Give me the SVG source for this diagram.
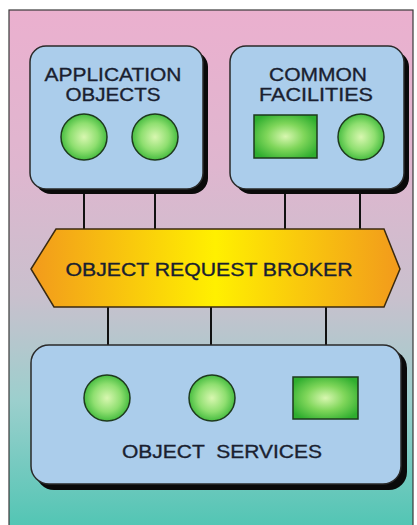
<svg xmlns="http://www.w3.org/2000/svg" width="417" height="525" viewBox="0 0 417 525">
<defs>
<linearGradient id="bg" x1="0" y1="0" x2="0" y2="1">
<stop offset="0" stop-color="#ebb0cf"/>
<stop offset="0.3" stop-color="#dfb6cf"/>
<stop offset="0.55" stop-color="#c9c0cd"/>
<stop offset="0.75" stop-color="#9ccfcd"/>
<stop offset="1" stop-color="#50c5b3"/>
</linearGradient>
<linearGradient id="orb" x1="0" y1="0" x2="1" y2="0">
<stop offset="0" stop-color="#f29a1c"/>
<stop offset="0.5" stop-color="#fff000"/>
<stop offset="1" stop-color="#f29a1c"/>
</linearGradient>
<radialGradient id="ball" cx="0.5" cy="0.5" r="0.55">
<stop offset="0" stop-color="#d8f7b0"/>
<stop offset="0.55" stop-color="#8fdf70"/>
<stop offset="1" stop-color="#35b435"/>
</radialGradient>
<radialGradient id="sq" cx="0.5" cy="0.5" r="0.6">
<stop offset="0" stop-color="#d8f7b0"/>
<stop offset="0.5" stop-color="#7fd65a"/>
<stop offset="1" stop-color="#2fae2f"/>
</radialGradient>
<style>
.box{fill:#abcdeb;stroke:#2a2a2a;stroke-width:1.5}
.sh{fill:#0a0a0a}
.lbl{font-family:"Liberation Sans",Arial,sans-serif;fill:#1a1f30;stroke:#1a1f30;stroke-width:0.35;text-anchor:middle}
.obj{fill:url(#ball);stroke:#1e3a1e;stroke-width:1.5}
.rct{fill:url(#sq);stroke:#1e3a1e;stroke-width:1.5}
.wire{stroke:#111;stroke-width:2;fill:none}
</style>
</defs>
<rect x="0" y="0" width="417" height="525" fill="#ffffff"/>
<rect x="9" y="10" width="404" height="520" fill="url(#bg)" stroke="#3a3a3a" stroke-width="1.2"/>

<g id="connectors">
<line class="wire" x1="84" y1="160" x2="84" y2="230"/>
<line class="wire" x1="155" y1="160" x2="155" y2="230"/>
<line class="wire" x1="285" y1="158" x2="285" y2="230"/>
<line class="wire" x1="360" y1="160" x2="360" y2="230"/>
<line class="wire" x1="108" y1="307" x2="108" y2="375"/>
<line class="wire" x1="211" y1="307" x2="211" y2="375"/>
<line class="wire" x1="326" y1="307" x2="326" y2="377"/>
</g>

<g id="application-objects">
<rect class="sh" x="35" y="51" width="173" height="143" rx="16"/>
<rect class="box" x="30" y="46" width="173" height="143" rx="16"/>
<text class="lbl" x="113" y="81" font-size="19" textLength="137" lengthAdjust="spacingAndGlyphs">APPLICATION</text>
<text class="lbl" x="113" y="101" font-size="19" textLength="95" lengthAdjust="spacingAndGlyphs">OBJECTS</text>
<circle class="obj" cx="84" cy="137" r="23"/>
<circle class="obj" cx="155" cy="137" r="23"/>
</g>

<g id="common-facilities">
<rect class="sh" x="235" y="51" width="174" height="143" rx="16"/>
<rect class="box" x="230" y="46" width="174" height="143" rx="16"/>
<text class="lbl" x="318" y="81" font-size="19" textLength="98" lengthAdjust="spacingAndGlyphs">COMMON</text>
<text class="lbl" x="316" y="101" font-size="19" textLength="114" lengthAdjust="spacingAndGlyphs">FACILITIES</text>
<rect class="rct" x="254" y="115" width="63" height="43"/>
<circle class="obj" cx="361" cy="137" r="23"/>
</g>

<g id="object-request-broker">
<polygon points="31,269 56,229 384,229 400,269 384,307 54,307" fill="url(#orb)" stroke="#3a2a10" stroke-width="1.5"/>
<text class="lbl" x="209" y="276" font-size="18.5" textLength="287" lengthAdjust="spacingAndGlyphs">OBJECT REQUEST BROKER</text>
</g>

<g id="object-services">
<rect class="sh" x="36" y="350" width="371" height="140" rx="18"/>
<rect class="box" x="31" y="345" width="370" height="139" rx="18"/>
<circle class="obj" cx="107" cy="398" r="23"/>
<circle class="obj" cx="212" cy="398" r="23"/>
<rect class="rct" x="293" y="377" width="65" height="42"/>
<text class="lbl" x="222" y="458" font-size="19" textLength="200" lengthAdjust="spacingAndGlyphs" xml:space="preserve">OBJECT  SERVICES</text>
</g>
</svg>
